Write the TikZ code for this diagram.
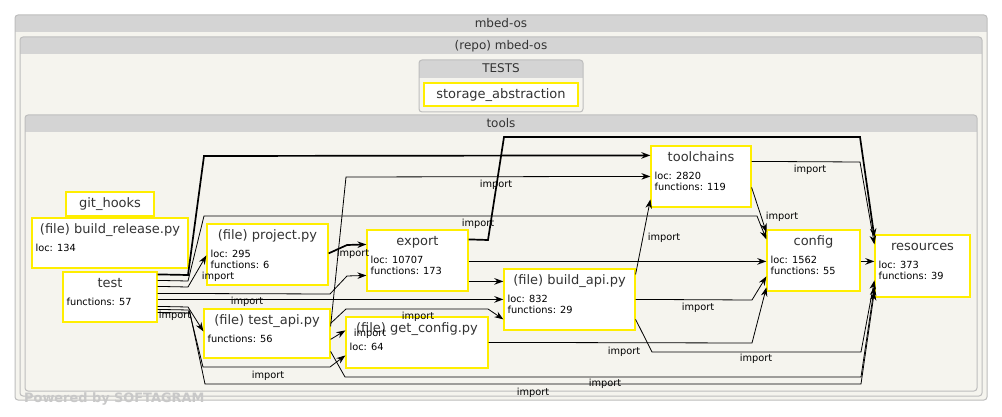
\documentclass[tikz,border=0pt]{standalone}
\usepackage{fontspec}
\setmainfont{DejaVu Sans}
\usetikzlibrary{arrows.meta}
\definecolor{bgc}{HTML}{F5F4EE}
\definecolor{hdr}{HTML}{D4D4D4}
\definecolor{brd}{HTML}{BDBDBD}
\definecolor{yel}{HTML}{FFEE00}
\definecolor{ttl}{HTML}{333333}
\definecolor{pow}{HTML}{C8C8C8}
\newcommand\clu[7]{%
  \fill[bgc, rounded corners=3pt] (#2,#3) rectangle (#4,#5);
  \begin{scope}\clip[rounded corners=3pt] (#2,#3) rectangle (#4,#5);
    \fill[hdr] (#2,#3) rectangle (#4,#6);\end{scope}
  \draw[brd, line width=1pt, rounded corners=3pt] (#2,#3) rectangle (#4,#5);
  \node[hdrt, anchor=base] (#1) at ({((#2)+(#4))/2},{(#3)+12.5}) {#7};}
\newcommand\bx[6]{%
  \node[box, minimum width={(#4)-(#2)}, minimum height={(#5)-(#3)}] (#1) at ({((#2)+(#4))/2},{((#3)+(#5))/2}) {};
  \node[ttlf] (#1-t) at ([yshift=-16.5pt]#1.north) {#6};}
\newcommand\dtl[4]{\node[dt] (#1-d#2) at ([xshift=4pt,yshift=#3]#1.north west) {#4};}
\begin{document}
\begin{tikzpicture}[x=1pt,y=-1pt,
  box/.style={draw=yel, line width=1.2pt, fill=white, inner sep=0pt, rectangle},
  ttlf/.style={font=\fontsize{13}{15}\selectfont, text=ttl, inner sep=0pt, anchor=base},
  dt/.style={font=\fontsize{9.8}{11}\selectfont, text=black, inner sep=0pt, anchor=base west},
  lbl/.style={font=\fontsize{9.8}{11}\selectfont, text=black, inner sep=0pt},
  hdrt/.style={font=\fontsize{12}{14}\selectfont, text=ttl, inner sep=0pt},
  edge/.style={draw=black, line width=0.8pt, -{Stealth[length=9pt,width=6.5pt]}},
  tedge/.style={edge, line width=1.7pt},
]
\useasboundingbox (0,0) rectangle (1002,417);
\fill[white] (0,0) rectangle (1002,417);
\clu{c-outer}{15}{15}{987}{400}{32}{mbed-os}
\clu{c-repo}{20}{37}{982}{396}{54}{(repo) mbed-os}
\clu{c-tests}{419}{60}{583}{112}{78}{TESTS}
\clu{c-tools}{25}{115}{977}{391}{132}{tools}

\bx{storage}{424}{83}{578}{106}{storage\_abstraction}
\bx{githooks}{66}{192}{154}{216}{git\_hooks}
\bx{buildrel}{32}{218}{188}{268}{(file) build\_release.py}
\dtl{buildrel}{1}{-34.5pt}{loc: 134}
\bx{test}{63}{272}{157}{322}{test}
\dtl{test}{1}{-34pt}{functions: 57}
\bx{project}{207}{224}{328}{285}{(file) project.py}
\dtl{project}{1}{-34.5pt}{loc: 295}
\dtl{project}{2}{-45.5pt}{functions: 6}
\bx{testapi}{204}{309}{330}{358}{(file) test\_api.py}
\dtl{testapi}{1}{-34pt}{functions: 56}
\bx{export}{367}{230}{468}{291}{export}
\dtl{export}{1}{-34.5pt}{loc: 10707}
\dtl{export}{2}{-45.5pt}{functions: 173}
\bx{buildapi}{504}{269}{635}{330}{(file) build\_api.py}
\dtl{buildapi}{1}{-34.5pt}{loc: 832}
\dtl{buildapi}{2}{-45.5pt}{functions: 29}
\bx{getconfig}{346}{317}{488}{368}{(file) get\_config.py}
\dtl{getconfig}{1}{-34.5pt}{loc: 64}
\bx{toolchains}{651}{146}{751}{207}{toolchains}
\dtl{toolchains}{1}{-34.5pt}{loc: 2820}
\dtl{toolchains}{2}{-45.5pt}{functions: 119}
\bx{config}{767}{230}{860}{291}{config}
\dtl{config}{1}{-34.5pt}{loc: 1562}
\dtl{config}{2}{-45.5pt}{functions: 55}
\bx{resources}{875}{235}{970}{297}{resources}
\dtl{resources}{1}{-34.5pt}{loc: 373}
\dtl{resources}{2}{-45.5pt}{functions: 39}

\draw[tedge] ([yshift=-3pt]test.north east) -- (188,275) -- (204,156) -- ([yshift=-10pt]toolchains.north west);
\draw[edge] ([yshift=-9pt]test.north east) -- (188,281) -- (204,216) -- (757,216) -- ([yshift=-10pt]config.north west);
\draw[edge] ([yshift=-15pt]test.north east) -- (188,287) -- ([yshift=-32pt]project.north west);
\draw[edge] ([yshift=-22pt]test.north east) -- (330,294) -- (347,276) -- ([yshift=-46pt]export.north west);
\draw[tedge] ([yshift=-28pt]test.north east) -- ([yshift=-31pt]buildapi.north west);
\draw[edge] ([yshift=-35pt]test.north east) -- (188,307) -- ([yshift=-23pt]testapi.north west);
\draw[edge] ([yshift=-38pt]test.north east) -- (189,310) -- (203,367) -- (330,367) -- ([yshift=-39pt]getconfig.north west);
\draw[edge] ([yshift=-41pt]test.north east) -- (190,313) -- (205,384) -- (861,384) -- ([yshift=-57pt]resources.north west);
\draw[tedge] ([yshift=-30pt]project.north east) -- (347,245) -- ([yshift=-15pt]export.north west);
\draw[tedge] ([yshift=-10pt]export.north east) -- (488,240) -- (504,137) -- (860,137) -- ([yshift=-3pt]resources.north west);
\draw[tedge] ([yshift=-32pt]export.north east) -- ([yshift=-32pt]config.north west);
\draw[tedge] ([yshift=-52pt]export.north east) -- ([yshift=-13pt]buildapi.north west);
\draw[edge] ([yshift=-18pt]testapi.north east) -- (346,177) -- ([yshift=-31pt]toolchains.north west);
\draw[edge] ([yshift=-15pt]testapi.north east) -- (346,309) -- (488,309) -- ([yshift=-51pt]buildapi.north west);
\draw[edge] ([yshift=-31pt]testapi.north east) -- ([yshift=-14pt]getconfig.north west);
\draw[edge] ([yshift=-43pt]testapi.north east) -- (345,377) -- (861,377) -- ([yshift=-52pt]resources.north west);
\draw[edge] ([yshift=-6pt]buildapi.north east) -- ([yshift=-54pt]toolchains.north west);
\draw[edge] ([yshift=-31pt]buildapi.north east) -- (752,300) -- ([yshift=-47pt]config.north west);
\draw[edge] ([yshift=-51pt]buildapi.north east) -- (652,352) -- (861,352) -- ([yshift=-46pt]resources.north west);
\draw[edge] ([yshift=-26pt]getconfig.north east) -- (752,343) -- ([yshift=-58pt]config.north west);
\draw[edge] ([yshift=-42pt]toolchains.north east) -- ([yshift=-3pt]config.north west);
\draw[edge] ([yshift=-16pt]toolchains.north east) -- (860,162) -- ([yshift=-10pt]resources.north west);
\draw[tedge] ([yshift=-32pt]config.north east) -- ([yshift=-27pt]resources.north west);

\node[lbl] (l1) at (496,185) {import};
\node[lbl] (l2) at (810,170) {import};
\node[lbl] (l3) at (478,224) {import};
\node[lbl] (l4) at (782,217) {import};
\node[lbl] (l5) at (664,238) {import};
\node[lbl] (l6) at (353,254) {import};
\node[lbl] (l7) at (218,277) {import};
\node[lbl] (l8) at (247,302) {import};
\node[lbl] (l9) at (175,316) {import};
\node[lbl] (l10) at (418,317) {import};
\node[lbl] (l11) at (370,334) {import};
\node[lbl] (l12) at (698,308) {import};
\node[lbl] (l13) at (624,352) {import};
\node[lbl] (l14) at (756,359) {import};
\node[lbl] (l15) at (268,376) {import};
\node[lbl] (l16) at (605,384) {import};
\node[lbl] (l17) at (533,393) {import};

\node[font=\bfseries\fontsize{12.9}{14}\selectfont, text=pow, inner sep=0pt, anchor=base west] (powered) at (24,402.5) {Powered by SOFTAGRAM};
\end{tikzpicture}
\end{document}
